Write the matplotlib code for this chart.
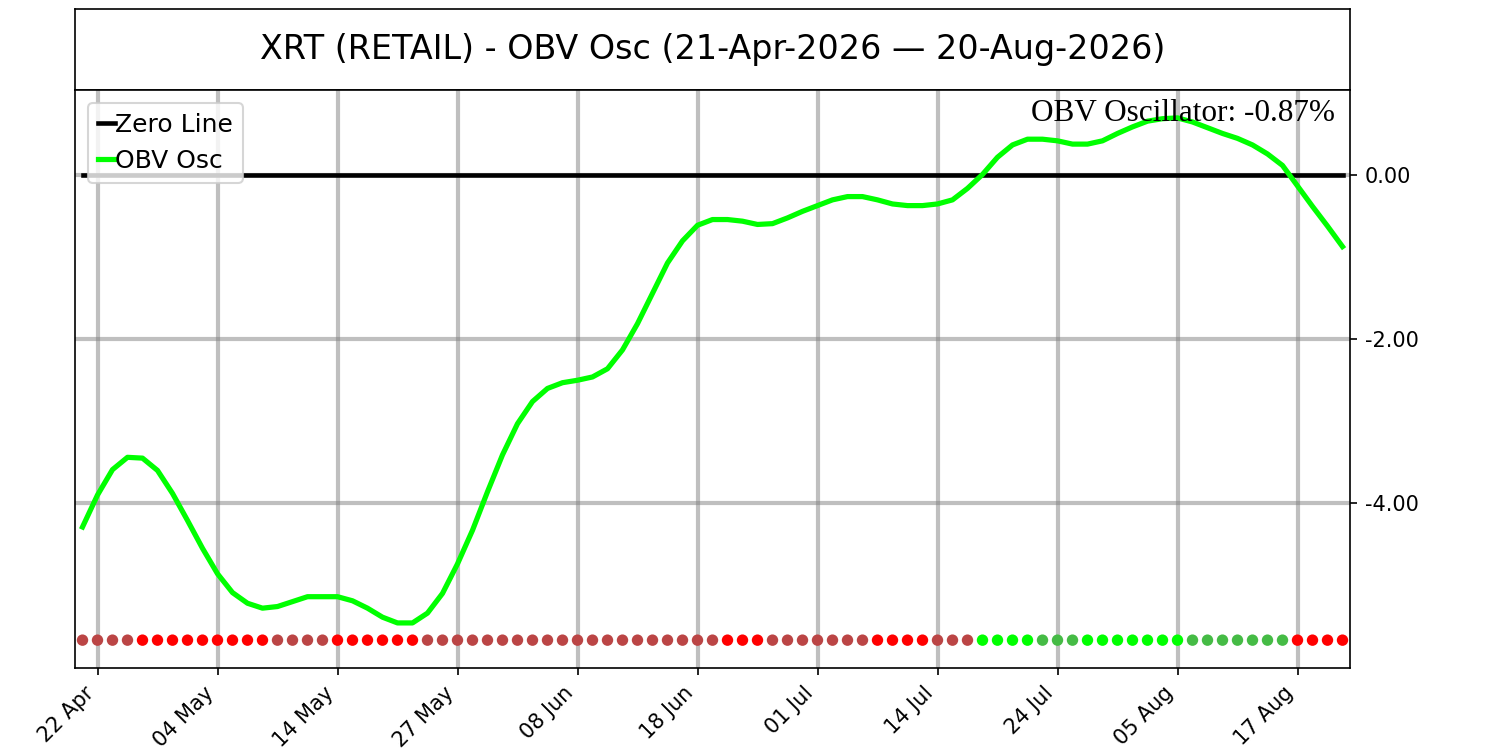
import pandas as pd
import matplotlib
matplotlib.use("Agg")
import matplotlib.pyplot as plt

# trading days 21-Apr-2026 .. 20-Aug-2026 (NYSE holidays removed)
holidays = ["2026-05-25", "2026-06-19", "2026-07-03"]
dates = pd.bdate_range("2026-04-21", "2026-08-20")
dates = dates[~dates.isin(pd.to_datetime(holidays))]

obv_osc = [
    -4.29, -3.90, -3.59, -3.44, -3.45, -3.60, -3.88, -4.21, -4.55, -4.86,
    -5.09, -5.22, -5.28, -5.26, -5.20, -5.14, -5.14, -5.14, -5.19, -5.28,
    -5.39, -5.46, -5.46, -5.34, -5.10, -4.74, -4.33, -3.86, -3.41, -3.03,
    -2.76, -2.60, -2.53, -2.50, -2.46, -2.36, -2.13, -1.81, -1.44, -1.07,
    -0.80, -0.61, -0.54, -0.54, -0.56, -0.60, -0.59, -0.52, -0.44, -0.37,
    -0.30, -0.26, -0.26, -0.30, -0.35, -0.37, -0.37, -0.35, -0.30, -0.16,
    0.01, 0.22, 0.37, 0.44, 0.44, 0.42, 0.38, 0.38, 0.42, 0.51,
    0.59, 0.66, 0.69, 0.70, 0.65, 0.58, 0.51, 0.45, 0.37, 0.26,
    0.12, -0.13, -0.38, -0.62, -0.87,
]

# signal state per day: R=red, B=weak red, L=lime, G=weak green
states = ("BBBB" + "RRRRRRRRR" + "BBBB" + "RRRRRR" + "B" * 20 + "RRR" + "BBBBBBB"
          + "RRRR" + "BBB" + "LLLL" + "GGG" + "LLLLLLL" + "GGGGGGG" + "RRRR")
state_colors = {"R": "#ff0000", "B": "#bb4545", "L": "#00ff00", "G": "#45bb45"}

yticks = [0, -2, -4]
tick_every = 8
tick_start = 1

x = list(range(len(dates)))
dot_colors = [state_colors[s] for s in states]

fig = plt.figure(figsize=(10, 5), dpi=150)
ax_t = fig.add_axes([0.05, 0.88, 0.85, 0.108])
ax = fig.add_axes([0.05, 0.1093, 0.85, 0.7707])

# title box
title = "XRT (RETAIL) - OBV Osc ({} \u2014 {})".format(
    dates[0].strftime("%d-%b-%Y"), dates[-1].strftime("%d-%b-%Y"))
ax_t.set_xticks([])
ax_t.set_yticks([])
ax_t.text(0.5, 0.5, title, ha="center", va="center", fontsize=16)

# main panel
ax.plot(x, [0] * len(x), color="black", linewidth=2.2, label="Zero Line", zorder=2)
ax.plot(x, obv_osc, color="#00ff00", linewidth=2.5, label="OBV Osc", zorder=3)
dot_y = -5.67
ax.scatter(x, [dot_y] * len(x), c=dot_colors, s=30, zorder=4, linewidths=0)

ax.set_xlim(-0.5, len(x) - 0.5)
ax.set_ylim(-6.01, 1.04)
ticks = x[tick_start::tick_every]
ax.set_xticks(ticks)
ax.set_xticklabels([dates[i].strftime("%d %b") for i in ticks], rotation=45, ha="right")
ax.yaxis.tick_right()
ax.set_yticks(yticks)
ax.set_yticklabels(["%.2f" % v for v in yticks])
ax.grid(True, color="gray", alpha=0.5, linewidth=2)

ax.legend(loc="upper left", fontsize=12, handlelength=0.7, handletextpad=0.0)
ax.text(0.988, 0.985, "OBV Oscillator: %.2f%%" % obv_osc[-1], transform=ax.transAxes,
        ha="right", va="top", fontsize=15, family="Liberation Serif")

fig.savefig("out.png", dpi=150)
